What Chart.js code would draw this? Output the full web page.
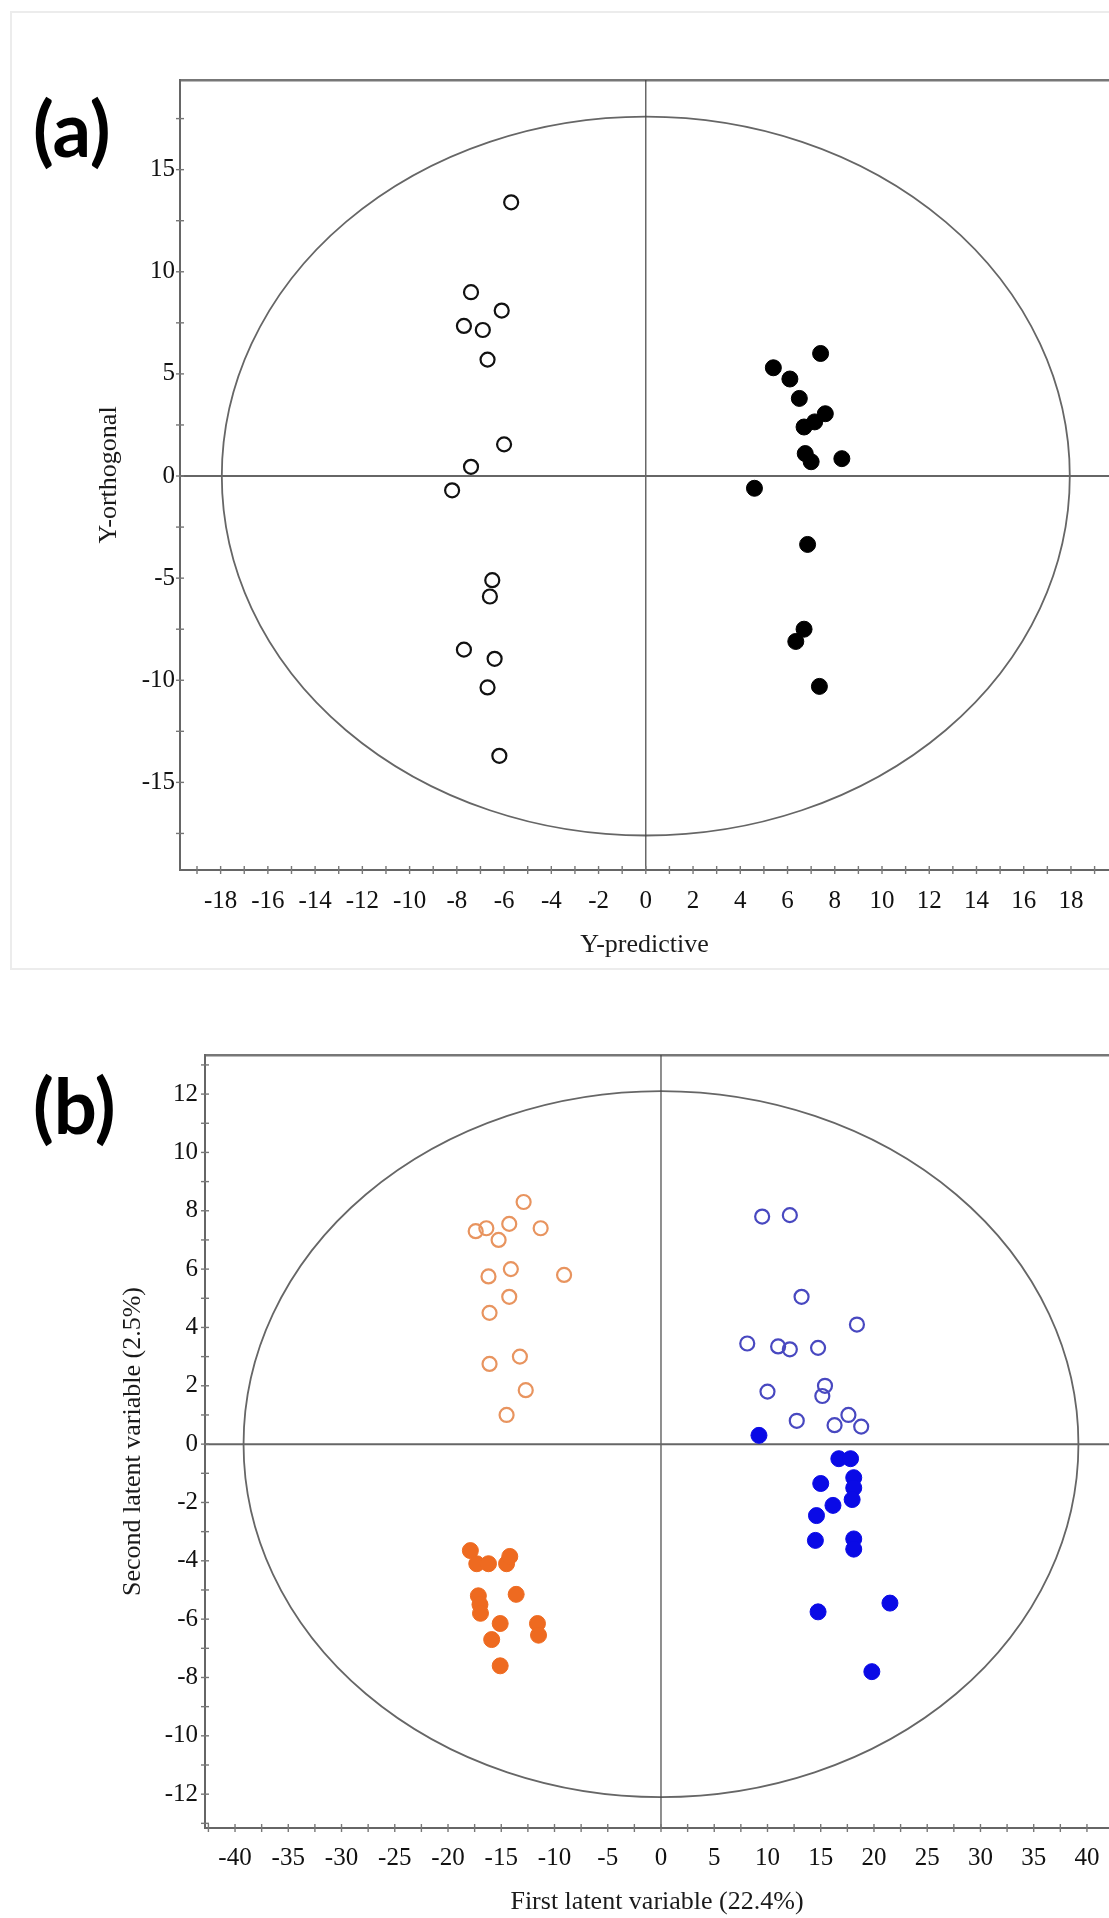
<!DOCTYPE html>
<html><head><meta charset="utf-8">
<script src="https://cdn.jsdelivr.net/npm/chart.js@4.4.1/dist/chart.umd.min.js"></script>
<style>
html,body{margin:0;padding:0;background:#fff;overflow:hidden;width:1109px;height:1918px;position:relative;}
#frameA{position:absolute;left:10px;top:11px;width:1200px;height:955px;border:2px solid #ececec;}
.plab{position:absolute;font-family:Lato,"Open Sans",sans-serif;font-weight:700;font-size:76px;color:#000;line-height:1;}
canvas{position:absolute;left:0;}
</style></head><body>
<div id="frameA"></div>
<div class="plab" style="left:33px;top:90px">(a)</div>
<div class="plab" style="left:33px;top:1067px">(b)</div>
<canvas id="cA" width="1109" height="980" style="top:0"></canvas>
<canvas id="cB" width="1109" height="928" style="top:990px"></canvas>
<script>
// ---------- Panel (a) data ----------
const aOpenX = [-5.7, -7.4, -6.1, -7.7, -6.9, -6.7, -6.0, -7.4, -8.2, -6.5, -6.6, -7.7, -6.4, -6.7, -6.2];
const aOpenY = [13.4, 9.0, 8.1, 7.35, 7.15, 5.7, 1.55, 0.45, -0.7, -5.1, -5.9, -8.5, -8.95, -10.35, -13.7];
const aFillX = [7.4, 5.4, 6.1, 6.5, 7.6, 7.15, 6.7, 6.75, 7.0, 8.3, 4.6, 6.85, 6.7, 6.35, 7.35];
const aFillY = [6.0, 5.3, 4.75, 3.8, 3.05, 2.65, 2.4, 1.1, 0.7, 0.85, -0.6, -3.35, -7.5, -8.1, -10.3];
const aXLabels = [-18, -16, -14, -12, -10, -8, -6, -4, -2, 0, 2, 4, 6, 8, 10, 12, 14, 16, 18];
const aYLabels = [-15, -10, -5, 0, 5, 10, 15];
const aXTitle = 'Y-predictive';
const aYTitle = 'Y-orthogonal';
const aEllipse = [17.95, 17.6];   // semi-axes (x, y)

// ---------- Panel (b) data ----------
const bOrangeOpenX = [-12.9, -17.4, -16.4, -15.25, -14.25, -11.3, -14.1, -16.2, -9.1, -14.25, -16.1, -13.25, -16.1, -12.7, -14.5];
const bOrangeOpenY = [8.3, 7.3, 7.4, 7.0, 7.55, 7.4, 6.0, 5.75, 5.8, 5.05, 4.5, 3.0, 2.75, 1.85, 1.0];
const bOrangeFillX = [-17.9, -17.3, -16.2, -14.5, -14.2, -17.15, -17.0, -16.95, -13.6, -15.1, -15.9, -11.6, -11.5, -15.1];
const bOrangeFillY = [-3.65, -4.1, -4.1, -4.1, -3.85, -5.2, -5.5, -5.8, -5.15, -6.15, -6.7, -6.15, -6.55, -7.6];
const bBlueOpenX = [9.5, 12.1, 13.2, 18.4, 8.1, 11.0, 12.1, 14.75, 10.0, 15.4, 15.15, 12.75, 16.3, 17.6, 18.8];
const bBlueOpenY = [7.8, 7.85, 5.05, 4.1, 3.45, 3.35, 3.25, 3.3, 1.8, 2.0, 1.65, 0.8, 0.65, 1.0, 0.6];
const bBlueFillX = [9.2, 16.7, 17.8, 15.0, 18.1, 18.1, 17.95, 16.15, 14.6, 14.5, 18.1, 18.1, 14.75, 21.5, 19.8];
const bBlueFillY = [0.3, -0.5, -0.5, -1.35, -1.15, -1.5, -1.9, -2.1, -2.45, -3.3, -3.25, -3.6, -5.75, -5.45, -7.8];
const bXLabels = [-40, -35, -30, -25, -20, -15, -10, -5, 0, 5, 10, 15, 20, 25, 30, 35, 40];
const bYLabels = [-12, -10, -8, -6, -4, -2, 0, 2, 4, 6, 8, 10, 12];
const bXTitle = 'First latent variable (22.4%)';
const bYTitle = 'Second latent variable (2.5%)';
const bEllipse = [39.2, 12.1];

// ---------- helpers ----------
const SERIF = '"Liberation Serif", "Times New Roman", serif';
function pts(X, Y) { return X.map((x, i) => ({ x: x, y: Y[i] })); }
function minorTicks(min, max, step) {
  const out = [];
  for (let k = Math.ceil(min / step - 1e-9); k * step <= max + 1e-9; k++) out.push(+(k * step).toFixed(4));
  return out;
}
const decor = {
  id: 'decor',
  beforeDatasetsDraw(chart, args, o) {
    const { ctx, chartArea: ca, scales: { x, y } } = chart;
    ctx.save();
    ctx.beginPath(); ctx.rect(ca.left, ca.top, ca.right - ca.left, ca.bottom - ca.top); ctx.clip();
    const cx = x.getPixelForValue(0), cy = y.getPixelForValue(0);
    const rx = Math.abs(x.getPixelForValue(o.ellipse[0]) - cx);
    const ry = Math.abs(y.getPixelForValue(o.ellipse[1]) - cy);
    ctx.strokeStyle = '#666'; ctx.lineWidth = 1.8;
    ctx.beginPath(); ctx.ellipse(cx, cy, rx, ry, 0, 0, Math.PI * 2); ctx.stroke();
    ctx.strokeStyle = '#444'; ctx.lineWidth = 1.2;
    ctx.beginPath(); ctx.moveTo(cx, ca.top); ctx.lineTo(cx, ca.bottom); ctx.stroke();
    ctx.strokeStyle = '#666'; ctx.lineWidth = 2;
    ctx.beginPath(); ctx.moveTo(ca.left, cy); ctx.lineTo(ca.right, cy); ctx.stroke();
    ctx.restore();
  },
  afterDraw(chart) {
    const { ctx, chartArea: ca, scales: { x, y } } = chart;
    ctx.save(); ctx.strokeStyle = '#777'; ctx.lineWidth = 1.4;
    x.ticks.forEach(t => { const p = x.getPixelForValue(t.value); ctx.beginPath(); ctx.moveTo(p, ca.bottom - 4); ctx.lineTo(p, ca.bottom + 4); ctx.stroke(); });
    y.ticks.forEach(t => { const p = y.getPixelForValue(t.value); ctx.beginPath(); ctx.moveTo(ca.left - 4, p); ctx.lineTo(ca.left + 4, p); ctx.stroke(); });
    ctx.restore();
  }
};

function makeChart(canvasId, datasets, s) {
  const tickFont = { family: SERIF, size: 25 };
  const titleFont = { family: SERIF, size: 26 };
  return new Chart(document.getElementById(canvasId), {
    type: 'scatter',
    data: { datasets: datasets },
    options: {
      responsive: false, animation: false, devicePixelRatio: 1,
      layout: { padding: 0, autoPadding: false },
      plugins: { legend: { display: false }, tooltip: { enabled: false }, decor: { ellipse: s.ellipse } },
      scales: {
        x: {
          type: 'linear', position: 'bottom', min: s.xMin, max: s.xMax,
          afterBuildTicks: sc => { sc.ticks = minorTicks(s.xMin, s.xMax, s.xStep).map(v => ({ value: v })); },
          afterFit: sc => { sc.height = s.xH; sc.paddingLeft = 0; sc.paddingRight = 0; },
          grid: { display: false, drawTicks: false },
          border: { display: true, color: '#666', width: 2 },
          ticks: { autoSkip: false, maxRotation: 0, minRotation: 0, padding: s.xPad, color: '#111', font: tickFont,
            callback: v => s.xLabels.includes(+v.toFixed(4)) ? String(v) : '' },
          title: { display: true, text: s.xTitle, color: '#1a1a1a', font: titleFont, padding: { top: 0, bottom: s.xTitlePad } }
        },
        xTop: {
          type: 'linear', position: 'top', min: s.xMin, max: s.xMax,
          afterFit: sc => { sc.height = s.topH; sc.paddingLeft = 0; sc.paddingRight = 0; },
          grid: { display: false, drawTicks: false },
          border: { display: true, color: '#777', width: 2.5 },
          ticks: { display: false }
        },
        y: {
          type: 'linear', position: 'left', min: s.yMin, max: s.yMax,
          afterBuildTicks: sc => { sc.ticks = minorTicks(s.yMin, s.yMax, s.yStep).map(v => ({ value: v })); },
          afterFit: sc => { sc.width = s.yW; sc.paddingTop = 0; sc.paddingBottom = 0; },
          grid: { display: false, drawTicks: false },
          border: { display: true, color: '#666', width: 2 },
          ticks: { autoSkip: false, padding: s.yPad, color: '#111', font: tickFont,
            callback: v => s.yLabels.includes(+v.toFixed(4)) ? String(v) : '' },
          title: { display: true, text: s.yTitle, color: '#1a1a1a', font: titleFont, padding: { top: s.yTitlePad, bottom: 0 } }
        }
      }
    },
    plugins: [decor]
  });
}

function openSet(X, Y, color, r) {
  return { data: pts(X, Y), pointRadius: r, pointBorderWidth: 2.2, pointBorderColor: color, borderColor: color,
           pointBackgroundColor: 'rgba(255,255,255,0)', backgroundColor: 'rgba(255,255,255,0)' };
}
function fillSet(X, Y, color, r) {
  return { data: pts(X, Y), pointRadius: r, pointBorderWidth: 1, pointBorderColor: color, borderColor: color,
           pointBackgroundColor: color, backgroundColor: color };
}

makeChart('cA', [
  openSet(aOpenX, aOpenY, '#111', 7),
  fillSet(aFillX, aFillY, '#000', 8)
], {
  xMin: -19.72, xMax: 19.61, xStep: 1, yMin: -19.29, yMax: 19.39, yStep: 2.5,
  xLabels: aXLabels, yLabels: aYLabels, xTitle: aXTitle, yTitle: aYTitle, ellipse: aEllipse,
  xH: 110, topH: 80, yW: 180, xPad: 16, yPad: 5, xTitlePad: 19, yTitlePad: 94
});

makeChart('cB', [
  openSet(bOrangeOpenX, bOrangeOpenY, '#E8945F', 7),
  openSet(bBlueOpenX, bBlueOpenY, '#4848C0', 7),
  fillSet(bOrangeFillX, bOrangeFillY, '#EE6A20', 8),
  fillSet(bBlueFillX, bBlueFillY, '#0A0AE6', 8)
], {
  xMin: -42.82, xMax: 42.07, xStep: 2.5, yMin: -13.16, yMax: 13.34, yStep: 1,
  xLabels: bXLabels, yLabels: bYLabels, xTitle: bXTitle, yTitle: bYTitle, ellipse: bEllipse,
  xH: 90, topH: 65, yW: 205, xPad: 15, yPad: 7, xTitlePad: 0, yTitlePad: 118
});
</script>
</body></html>
